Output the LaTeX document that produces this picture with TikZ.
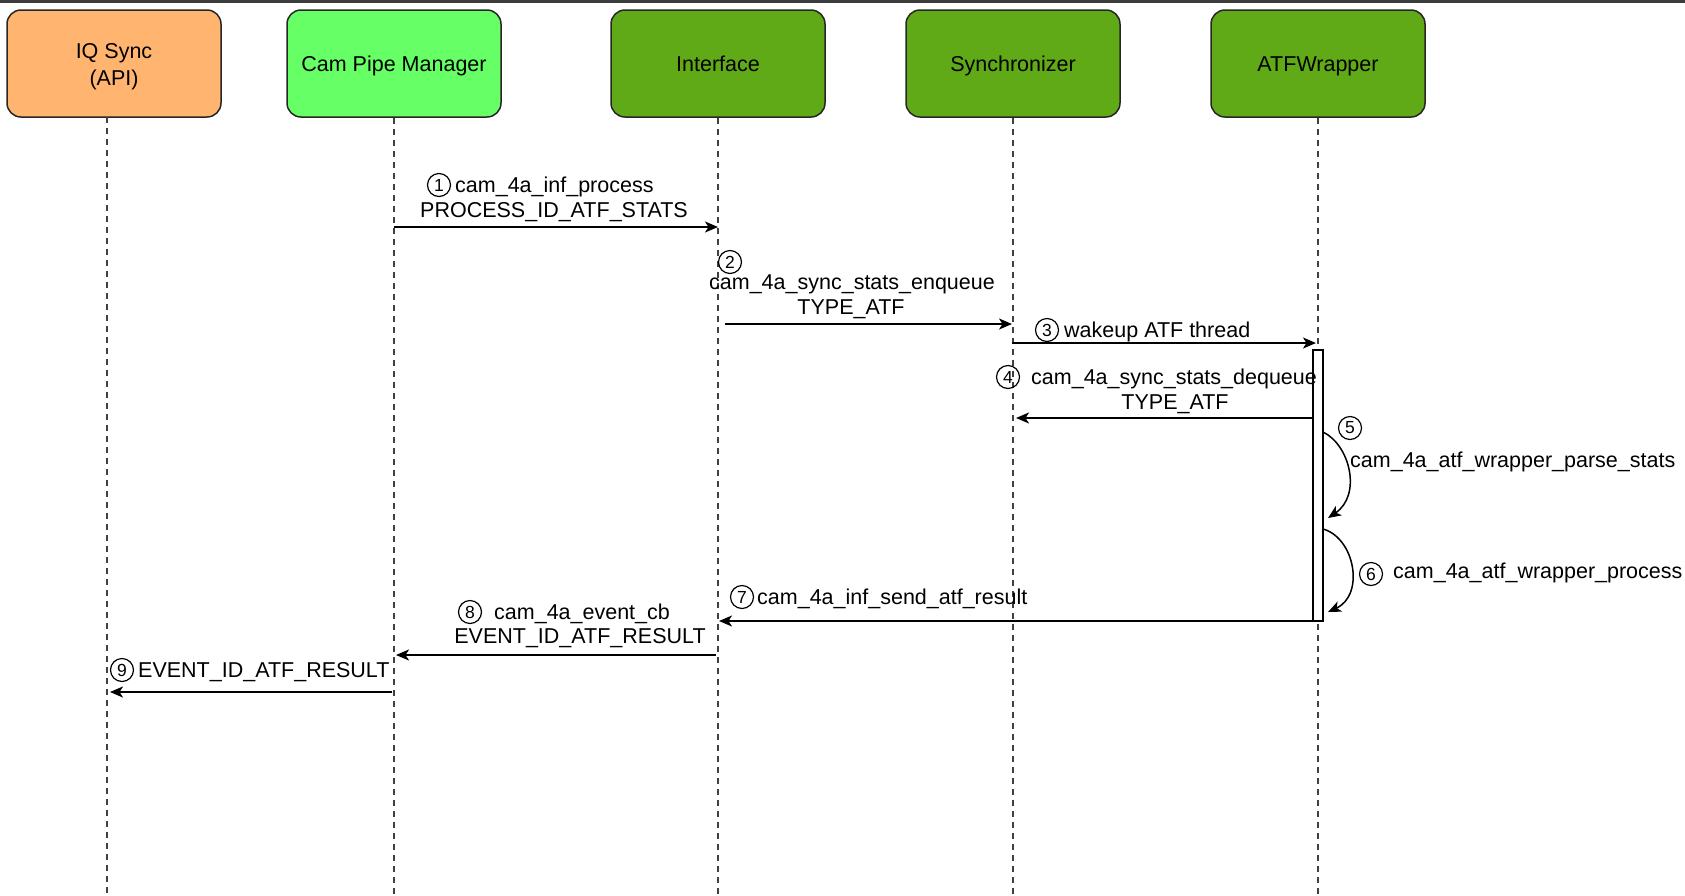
\documentclass[tikz,border=0pt]{standalone}
\usepackage{fontspec}
\setmainfont{Liberation Sans}
\usetikzlibrary{arrows.meta}
\definecolor{orangebox}{HTML}{FFB570}
\definecolor{lightgreenbox}{HTML}{66FF66}
\definecolor{greenbox}{HTML}{60A917}
\definecolor{topbar}{HTML}{3C3C3C}
\begin{document}
\begin{tikzpicture}[x=1pt,y=-1pt,
  actor/.style={draw=black!85, line width=1.5pt, rounded corners=14pt, minimum width=214pt, minimum height=107pt, inner sep=0pt, align=center, text height=18pt, text depth=2pt, font=\fontsize{21.5}{27}\selectfont},
  lifeline/.style={draw=black!75, line width=1.3pt, dash pattern=on 6pt off 5pt},
  msg/.style={draw=black, line width=1.8pt, -{Stealth[length=13pt,width=11pt,inset=3.5pt]}},
  selfmsg/.style={draw=black, line width=1.5pt, -{Stealth[length=13pt,width=11pt,inset=3.5pt]}},
  lbl/.style={inner sep=0pt, font=\fontsize{21.5}{26}\selectfont},
  num/.style={draw=black, line width=1.2pt, circle, minimum size=23pt, inner sep=0pt, font=\fontsize{17.5}{17.5}\selectfont},
  actbar/.style={draw=black, fill=white, line width=1.4pt}
]
\useasboundingbox (0,0) rectangle (1685,895);
\fill[topbar] (0,0) rectangle (1685,3);

% actors
\node[actor, fill=orangebox, text height=45pt] (iq) at (114,63.5) {IQ Sync\\(API)};
\node[actor, fill=lightgreenbox] (cpm) at (394,63.5) {Cam Pipe Manager};
\node[actor, fill=greenbox] (inf) at (718,63.5) {Interface};
\node[actor, fill=greenbox] (sync) at (1013,63.5) {Synchronizer};
\node[actor, fill=greenbox] (atf) at (1318,63.5) {ATFWrapper};

% lifelines
\coordinate (iqT) at (107,117);   \coordinate (iqB) at (107,895);
\draw[lifeline] (iqT) -- (iqB);
\draw[lifeline] (cpm.south) -- (cpm.south |- iqB);
\draw[lifeline] (inf.south) -- (inf.south |- iqB);
\draw[lifeline] (sync.south) -- (sync.south |- iqB);
\draw[lifeline] (atf.south) -- (atf.south |- iqB);

% activation bar
\draw[actbar] (1313,350) rectangle (1323,621);

% message endpoints
\coordinate (m1s) at (394,227);  \coordinate (m1e) at (718,227);
\coordinate (m2s) at (725,324);  \coordinate (m2e) at (1012,324);
\coordinate (m3s) at (1012,343); \coordinate (m3e) at (1316,343);
\coordinate (m4s) at (1313,418); \coordinate (m4e) at (1016,418);
\coordinate (m5s) at (1323,432); \coordinate (m5e) at (1328,518);
\coordinate (m6s) at (1323,529); \coordinate (m6e) at (1328,612);
\coordinate (m7s) at (1323,621); \coordinate (m7e) at (719,621);
\coordinate (m8s) at (716,655);  \coordinate (m8e) at (396,655);
\coordinate (m9s) at (392,692);  \coordinate (m9e) at (110,692);

\draw[msg] (m1s) -- (m1e);
\draw[msg] (m2s) -- (m2e);
\draw[msg] (m3s) -- (m3e);
\draw[msg] (m4s) -- (m4e);
\draw[selfmsg] (m5s) .. controls (1350,445) and (1362,495) .. (m5e);
\draw[selfmsg] (m6s) .. controls (1355,538) and (1365,595) .. (m6e);
\draw[msg] (m7s) -- (m7e);
\draw[msg] (m8s) -- (m8e);
\draw[msg] (m9s) -- (m9e);

% labels
\node[num] (n1) at (439,185) {1};
\node[lbl, anchor=base west] (t1a) at (455,192.5) {cam\_4a\_inf\_process};
\node[lbl, anchor=base] (t1b) at (554,217.5) {PROCESS\_ID\_ATF\_STATS};

\node[num] (n2) at (730,262) {2};
\node[lbl, anchor=base] (t2a) at (852,289.5) {cam\_4a\_sync\_stats\_enqueue};
\node[lbl, anchor=base] (t2b) at (851,314.5) {TYPE\_ATF};

\node[num] (n3) at (1047,330) {3};
\node[lbl, anchor=base west] (t3) at (1064,337.5) {wakeup ATF thread};

\node[num] (n4) at (1008,377) {4};
\node[lbl, anchor=base west] (t4a) at (1031,384.5) {cam\_4a\_sync\_stats\_dequeue};
\node[lbl, anchor=base] (t4b) at (1175,409.5) {TYPE\_ATF};

\node[num] (n5) at (1350,428) {5};
\node[lbl, anchor=base west] (t5) at (1350,467.5) {cam\_4a\_atf\_wrapper\_parse\_stats};

\node[num] (n6) at (1371,574) {6};
\node[lbl, anchor=base west] (t6) at (1393,578.5) {cam\_4a\_atf\_wrapper\_process};

\node[num] (n7) at (742,597) {7};
\node[lbl, anchor=base west] (t7) at (757,604.5) {cam\_4a\_inf\_send\_atf\_result};

\node[num] (n8) at (470,612) {8};
\node[lbl, anchor=base west] (t8a) at (494,619.5) {cam\_4a\_event\_cb};
\node[lbl, anchor=base] (t8b) at (580,643.5) {EVENT\_ID\_ATF\_RESULT};

\node[num] (n9) at (122,670) {9};
\node[lbl, anchor=base west] (t9) at (138,677.5) {EVENT\_ID\_ATF\_RESULT};
\end{tikzpicture}
\end{document}
